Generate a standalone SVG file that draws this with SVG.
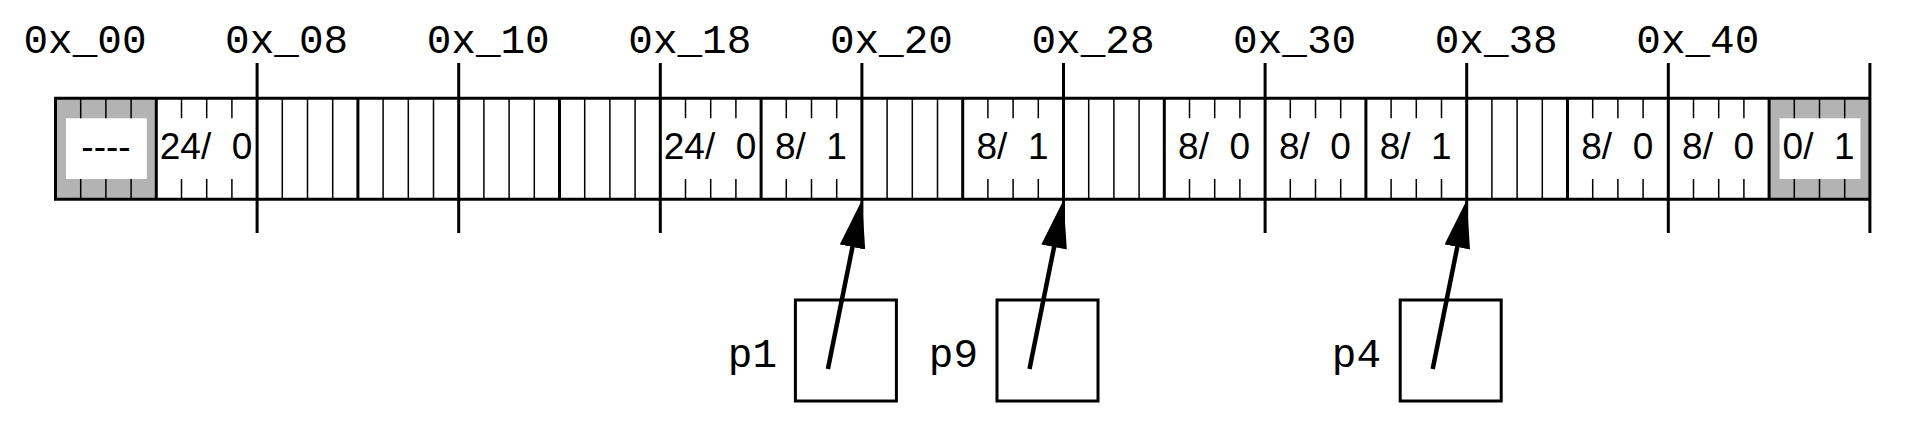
<svg xmlns="http://www.w3.org/2000/svg" width="1912" height="442" viewBox="0 0 1912 442">
<style>
.bg{fill:#ffffff}
.grey{fill:#b3b3b3;stroke:none}
.hole{fill:#ffffff;stroke:none}
.col{stroke:#000;stroke-width:1.5;fill:none}
.blk{stroke:#000;stroke-width:3;fill:none}
.addr{stroke:#000;stroke-width:3;fill:none}
.lbl{font-family:"Liberation Mono","Courier New",monospace;font-size:41px;fill:#000}
.val{font-family:"Liberation Sans",Arial,sans-serif;font-size:37px;fill:#000;white-space:pre}
.ptr{fill:#fff;stroke:#000;stroke-width:3}
.arrow{stroke:#000;stroke-width:4.5;fill:none;marker-end:url(#ah)}
</style>
<defs>
<marker id="ah" markerUnits="userSpaceOnUse" markerWidth="48" markerHeight="26" viewBox="0 0 48 26" refX="28" refY="13" orient="auto">
<path d="M0,0 L48,13 L0,26 z" fill="#000"/>
</marker>
</defs>
<rect class="bg" x="0" y="0" width="1912" height="442"/>

<g id="labels">
<text class="lbl" x="85" y="53" text-anchor="middle">0x_00</text>
<text class="lbl" x="286.6" y="53" text-anchor="middle">0x_08</text>
<text class="lbl" x="488.2" y="53" text-anchor="middle">0x_10</text>
<text class="lbl" x="689.8" y="53" text-anchor="middle">0x_18</text>
<text class="lbl" x="891.4" y="53" text-anchor="middle">0x_20</text>
<text class="lbl" x="1093" y="53" text-anchor="middle">0x_28</text>
<text class="lbl" x="1294.6" y="53" text-anchor="middle">0x_30</text>
<text class="lbl" x="1496.2" y="53" text-anchor="middle">0x_38</text>
<text class="lbl" x="1697.8" y="53" text-anchor="middle">0x_40</text>
</g>

<g id="block-00">
<rect class="grey" x="55.5" y="98.3" width="100.8" height="101"/>
<path class="col" d="M80.7,98.3V199.3M105.9,98.3V199.3M131.1,98.3V199.3"/>
<rect class="hole" x="66" y="118.3" width="80.8" height="60.7"/>
<text class="val" x="106" y="159.3" text-anchor="middle">----</text>
</g>
<g id="block-04">
<path class="col" d="M181.5,98.3V118.3M206.7,98.3V118.3M231.9,98.3V118.3M181.5,179V199.3M206.7,179V199.3M231.9,179V199.3"/>
<text class="val" x="159.8" y="159.3">24/  0</text>
</g>
<g id="block-08-17">
<path class="col" d="M282.3,98.3V199.3M307.5,98.3V199.3M332.7,98.3V199.3M383.1,98.3V199.3M408.3,98.3V199.3M433.5,98.3V199.3M483.9,98.3V199.3M509.1,98.3V199.3M534.3,98.3V199.3M584.7,98.3V199.3M609.9,98.3V199.3M635.1,98.3V199.3"/>
</g>
<g id="block-18">
<path class="col" d="M685.5,98.3V118.3M710.7,98.3V118.3M735.9,98.3V118.3M685.5,179V199.3M710.7,179V199.3M735.9,179V199.3"/>
<text class="val" x="663.8" y="159.3">24/  0</text>
</g>
<g id="block-1c">
<path class="col" d="M786.3,98.3V118.3M811.5,98.3V118.3M836.7,98.3V118.3M786.3,179V199.3M811.5,179V199.3M836.7,179V199.3"/>
<text class="val" x="774.9" y="159.3">8/  1</text>
</g>
<g id="block-20">
<path class="col" d="M887.1,98.3V199.3M912.3,98.3V199.3M937.5,98.3V199.3"/>
</g>
<g id="block-24">
<path class="col" d="M987.9,98.3V118.3M1013.1,98.3V118.3M1038.3,98.3V118.3M987.9,179V199.3M1013.1,179V199.3M1038.3,179V199.3"/>
<text class="val" x="976.5" y="159.3">8/  1</text>
</g>
<g id="block-28">
<path class="col" d="M1088.7,98.3V199.3M1113.9,98.3V199.3M1139.1,98.3V199.3"/>
</g>
<g id="block-2c">
<path class="col" d="M1189.5,98.3V118.3M1214.7,98.3V118.3M1239.9,98.3V118.3M1189.5,179V199.3M1214.7,179V199.3M1239.9,179V199.3"/>
<text class="val" x="1178.1" y="159.3">8/  0</text>
</g>
<g id="block-30">
<path class="col" d="M1290.3,98.3V118.3M1315.5,98.3V118.3M1340.7,98.3V118.3M1290.3,179V199.3M1315.5,179V199.3M1340.7,179V199.3"/>
<text class="val" x="1278.9" y="159.3">8/  0</text>
</g>
<g id="block-34">
<path class="col" d="M1391.1,98.3V118.3M1416.3,98.3V118.3M1441.5,98.3V118.3M1391.1,179V199.3M1416.3,179V199.3M1441.5,179V199.3"/>
<text class="val" x="1379.7" y="159.3">8/  1</text>
</g>
<g id="block-38">
<path class="col" d="M1491.9,98.3V199.3M1517.1,98.3V199.3M1542.3,98.3V199.3"/>
</g>
<g id="block-3c">
<path class="col" d="M1592.7,98.3V118.3M1617.9,98.3V118.3M1643.1,98.3V118.3M1592.7,179V199.3M1617.9,179V199.3M1643.1,179V199.3"/>
<text class="val" x="1581.3" y="159.3">8/  0</text>
</g>
<g id="block-40">
<path class="col" d="M1693.5,98.3V118.3M1718.7,98.3V118.3M1743.9,98.3V118.3M1693.5,179V199.3M1718.7,179V199.3M1743.9,179V199.3"/>
<text class="val" x="1682.1" y="159.3">8/  0</text>
</g>
<g id="block-44">
<rect class="grey" x="1769.1" y="98.3" width="100.8" height="101"/>
<path class="col" d="M1794.3,98.3V199.3M1819.5,98.3V199.3M1844.7,98.3V199.3"/>
<rect class="hole" x="1779.6" y="118.3" width="80.8" height="60.7"/>
<text class="val" x="1782.6" y="159.3">0/  1</text>
</g>

<g id="frame">
<path class="blk" d="M55.5,98.3H1869.9M55.5,199.3H1869.9M55.5,96.8V200.8M156.3,98.3V199.3M357.9,98.3V199.3M559.5,98.3V199.3M761.1,98.3V199.3M962.7,98.3V199.3M1164.3,98.3V199.3M1365.9,98.3V199.3M1567.5,98.3V199.3M1769.1,98.3V199.3"/>
<path class="addr" d="M257.1,63V233M458.7,63V233M660.3,63V233M861.9,63V233M1063.5,63V233M1265.1,63V233M1466.7,63V233M1668.3,63V233M1869.9,63V233"/>
</g>

<g id="p1">
<rect class="ptr" x="795.4" y="300" width="101" height="101"/>
<text class="lbl" x="777" y="367" text-anchor="end">p1</text>
</g>
<g id="p9">
<rect class="ptr" x="997" y="300" width="101" height="101"/>
<text class="lbl" x="978" y="367" text-anchor="end">p9</text>
</g>
<g id="p4">
<rect class="ptr" x="1400.2" y="300" width="101" height="101"/>
<text class="lbl" x="1381" y="367" text-anchor="end">p4</text>
</g>

<g id="connectors">
<line class="arrow" x1="827.9" y1="369" x2="858" y2="219.6"/>
<line class="arrow" x1="1029.5" y1="369" x2="1059.6" y2="219.6"/>
<line class="arrow" x1="1432.7" y1="369" x2="1462.8" y2="219.6"/>
</g>
</svg>
